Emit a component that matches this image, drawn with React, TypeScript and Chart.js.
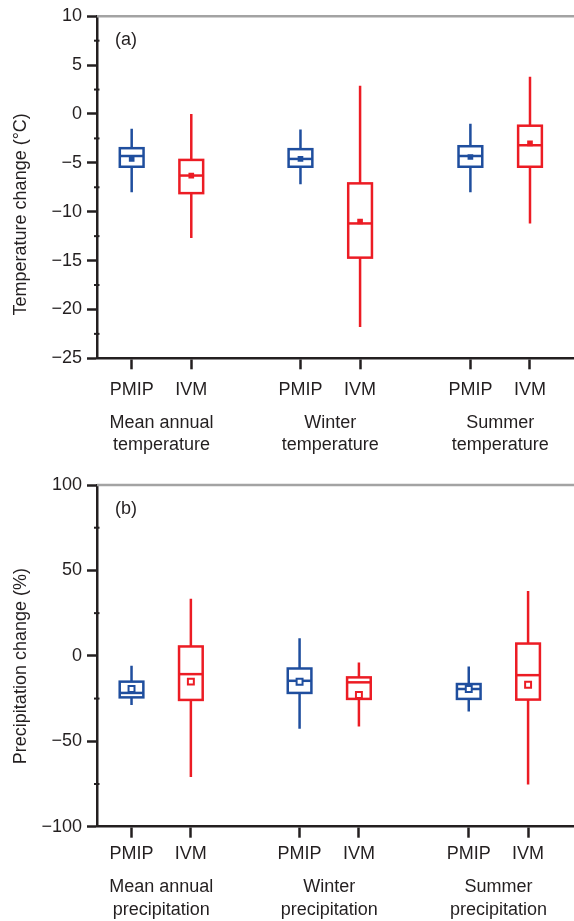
import React, { useEffect, useRef } from "react";
import { Chart, registerables } from "chart.js";

Chart.register(...registerables);

// ---------- data ----------
const models = ["PMIP", "IVM"];
const groupCenters = [1, 3.985, 6.99];
const modelOffset = 0.527;

const tempGroups = [
  ["Mean annual", "temperature"],
  ["Winter", "temperature"],
  ["Summer", "temperature"],
];
const precGroups = [
  ["Mean annual", "precipitation"],
  ["Winter", "precipitation"],
  ["Summer", "precipitation"],
];

// order: MA-PMIP, MA-IVM, W-PMIP, W-IVM, S-PMIP, S-IVM
const tempMin = [-8.0, -12.7, -7.2, -21.8, -8.0, -11.2];
const tempQ1 = [-5.4, -8.1, -5.4, -14.7, -5.4, -5.4];
const tempMedian = [-4.3, -6.3, -4.6, -11.2, -4.3, -3.2];
const tempMean = [-4.6, -6.3, -4.6, -11.0, -4.4, -3.0];
const tempQ3 = [-3.5, -4.7, -3.6, -7.1, -3.3, -1.2];
const tempMax = [-1.5, 0.0, -1.6, 2.9, -1.0, 3.8];

const precMin = [-28.7, -70.9, -42.7, -41.3, -32.6, -75.3];
const precQ1 = [-24.3, -25.8, -21.7, -25.2, -25.2, -25.6];
const precMedian = [-21.7, -10.7, -14.6, -15.5, -19.4, -11.3];
const precMean = [-19.4, -15.1, -15.2, -22.9, -19.4, -16.9];
const precQ3 = [-15.1, 5.5, -7.4, -12.6, -16.5, 7.2];
const precMax = [-5.8, 33.4, 10.3, -3.9, -6.2, 37.9];

const tempTicks = [-25, -20, -15, -10, -5, 0, 5, 10];
const precTicks = [-100, -50, 0, 50, 100];

// ---------- style ----------
const BLUE = "#1f4e9e";
const RED = "#ec1c24";
const DARK = "#231f20";
const GREY_BORDER = "#a3a3a3";
const FONT_FAMILY = "'Liberation Sans', Arial, Helvetica, sans-serif";
const font = { family: FONT_FAMILY, size: 18, lineHeight: 1.25 };

const xPositions = groupCenters.flatMap((c) => [c - modelOffset, c + modelOffset]);
const colors = xPositions.map((_, i) => (i % 2 === 0 ? BLUE : RED));

function fmt(v: number) {
  return v < 0 ? "\u2212" + Math.abs(v) : String(v);
}

type Panel = {
  label: string;
  yTitle: string;
  titleFrac: number;
  groups: string[][];
  min: number[];
  q1: number[];
  median: number[];
  mean: number[];
  q3: number[];
  max: number[];
  ticks: number[];
  height: number;
  padTop: number;
  xAxisH: number;
  groupAxisH: number;
  xPad: number;
  groupPad: number;
  hollowMean: boolean;
};

function makePlugin(p: Panel) {
  return {
    id: "boxes",
    beforeDatasetsDraw(chart: any) {
      const { ctx } = chart;
      const x = chart.scales.x;
      const y = chart.scales.y;
      ctx.save();
      ctx.lineWidth = 2.5;
      const boxW = 0.42;
      xPositions.forEach((pos, i) => {
        const xc = x.getPixelForValue(pos);
        const half = (x.getPixelForValue(pos + boxW / 2) - x.getPixelForValue(pos - boxW / 2)) / 2;
        const yMin = y.getPixelForValue(p.min[i]);
        const yQ1 = y.getPixelForValue(p.q1[i]);
        const yMed = y.getPixelForValue(p.median[i]);
        const yQ3 = y.getPixelForValue(p.q3[i]);
        const yMax = y.getPixelForValue(p.max[i]);
        ctx.strokeStyle = colors[i];
        ctx.beginPath();
        ctx.moveTo(xc, yMax);
        ctx.lineTo(xc, yQ3);
        ctx.moveTo(xc, yQ1);
        ctx.lineTo(xc, yMin);
        ctx.stroke();
        ctx.fillStyle = "#ffffff";
        ctx.fillRect(xc - half, yQ3, 2 * half, yQ1 - yQ3);
        ctx.strokeRect(xc - half, yQ3, 2 * half, yQ1 - yQ3);
        ctx.beginPath();
        ctx.moveTo(xc - half, yMed);
        ctx.lineTo(xc + half, yMed);
        ctx.stroke();
      });
      ctx.restore();
    },
    afterDraw(chart: any) {
      const { ctx, chartArea } = chart;
      const y = chart.scales.y;
      ctx.save();
      // top frame line
      ctx.strokeStyle = GREY_BORDER;
      ctx.lineWidth = 2.5;
      ctx.beginPath();
      ctx.moveTo(chartArea.left, chartArea.top);
      ctx.lineTo(chartArea.right, chartArea.top);
      ctx.stroke();
      // minor ticks
      ctx.strokeStyle = DARK;
      ctx.lineWidth = 2;
      for (let k = 0; k < p.ticks.length - 1; k++) {
        const v = (p.ticks[k] + p.ticks[k + 1]) / 2;
        const py = y.getPixelForValue(v);
        ctx.beginPath();
        ctx.moveTo(chartArea.left - 3, py);
        ctx.lineTo(chartArea.left + 2.5, py);
        ctx.stroke();
      }
      // y title
      ctx.fillStyle = DARK;
      ctx.font = `18px ${FONT_FAMILY}`;
      ctx.textAlign = "center";
      ctx.textBaseline = "middle";
      const ty = chartArea.top + (chartArea.bottom - chartArea.top) * p.titleFrac;
      ctx.translate(21.5, ty);
      ctx.rotate(-Math.PI / 2);
      ctx.fillText(p.yTitle, 0, 0);
      ctx.restore();
      // panel label
      ctx.save();
      ctx.fillStyle = DARK;
      ctx.font = `18px ${FONT_FAMILY}`;
      ctx.textAlign = "left";
      ctx.textBaseline = "middle";
      ctx.fillText(p.label, chartArea.left + 18, chartArea.top + 24);
      ctx.restore();
    },
  };
}

function buildChart(canvas: HTMLCanvasElement, p: Panel) {
  const unit = 57;
  const chartW = 600 - 97;
  const xMin = groupCenters[0] - 65 / unit;
  const xMax = xMin + chartW / unit;
  const tMin = p.ticks[0];
  const tMax = p.ticks[p.ticks.length - 1];
  const step = p.ticks[1] - p.ticks[0];

  return new Chart(canvas, {
    type: "scatter",
    data: {
      datasets: [
        {
          data: xPositions.map((xv, i) => ({ x: xv, y: p.mean[i] })),
          pointStyle: "rect",
          pointRadius: p.hollowMean ? 4.2 : 4,
          pointHoverRadius: p.hollowMean ? 4.2 : 4,
          pointBackgroundColor: p.hollowMean ? "#ffffff" : colors,
          pointBorderColor: colors,
          pointBorderWidth: p.hollowMean ? 2 : 0,
        } as any,
      ],
    },
    options: {
      responsive: false,
      animation: false,
      devicePixelRatio: 1,
      events: [],
      layout: { padding: { top: p.padTop, left: 0, right: 0, bottom: 0 } },
      plugins: { legend: { display: false }, tooltip: { enabled: false } },
      scales: {
        x: {
          type: "linear",
          position: "bottom",
          min: xMin,
          max: xMax,
          afterFit: (s: any) => {
            s.height = p.xAxisH;
          },
          afterBuildTicks: (s: any) => {
            s.ticks = xPositions.map((v) => ({ value: v }));
          },
          ticks: {
            autoSkip: false,
            maxRotation: 0,
            minRotation: 0,
            padding: p.xPad,
            color: DARK,
            font,
            callback: (_v: any, i: number) => models[i % 2],
          },
          grid: {
            drawOnChartArea: false,
            drawTicks: true,
            tickLength: 11,
            tickWidth: 2.5,
            tickColor: DARK,
          },
          border: { display: true, color: DARK, width: 2.5 },
        },
        xg: {
          type: "linear",
          axis: "x",
          position: "bottom",
          weight: 1,
          min: xMin,
          max: xMax,
          afterFit: (s: any) => {
            s.height = p.groupAxisH;
          },
          afterBuildTicks: (s: any) => {
            s.ticks = groupCenters.map((v) => ({ value: v }));
          },
          ticks: {
            autoSkip: false,
            maxRotation: 0,
            minRotation: 0,
            padding: p.groupPad,
            color: DARK,
            font,
            callback: (_v: any, i: number) => p.groups[i],
          },
          grid: { display: false, drawTicks: false },
          border: { display: false },
        },
        y: {
          type: "linear",
          min: tMin,
          max: tMax,
          afterFit: (s: any) => {
            s.width = 97;
          },
          ticks: {
            stepSize: step,
            padding: 5,
            color: DARK,
            font,
            callback: (v: any) => fmt(Number(v)),
          },
          grid: {
            drawOnChartArea: false,
            drawTicks: true,
            tickLength: 10,
            tickWidth: 2.5,
            tickColor: DARK,
          },
          border: { display: true, color: DARK, width: 2.5 },
        },
      },
    } as any,
    plugins: [makePlugin(p)],
  });
}

const topPanel: Panel = {
  label: "(a)",
  yTitle: "Temperature change (\u00B0C)",
  titleFrac: 0.579,
  groups: tempGroups,
  min: tempMin,
  q1: tempQ1,
  median: tempMedian,
  mean: tempMean,
  q3: tempQ3,
  max: tempMax,
  ticks: tempTicks,
  height: 460,
  padTop: 15,
  xAxisH: 40,
  groupAxisH: 61.7,
  xPad: 9.75,
  groupPad: 13,
  hollowMean: false,
};

const bottomPanel: Panel = {
  label: "(b)",
  yTitle: "Precipitation change (%)",
  titleFrac: 0.53,
  groups: precGroups,
  min: precMin,
  q1: precQ1,
  median: precMedian,
  mean: precMean,
  q3: precQ3,
  max: precMax,
  ticks: precTicks,
  height: 461,
  padTop: 25,
  xAxisH: 36,
  groupAxisH: 58.3,
  xPad: 5,
  groupPad: 13.5,
  hollowMean: true,
};

function PanelChart({ panel }: { panel: Panel }) {
  const ref = useRef<HTMLCanvasElement | null>(null);
  useEffect(() => {
    if (!ref.current) return;
    const chart = buildChart(ref.current, panel);
    return () => chart.destroy();
  }, [panel]);
  return (
    <canvas
      ref={ref}
      width={600}
      height={panel.height}
      style={{ display: "block", width: 600, height: panel.height }}
    />
  );
}

export default function App() {
  return (
    <div
      style={{
        position: "absolute",
        left: 0,
        top: 0,
        width: 574,
        height: 921,
        overflow: "hidden",
        background: "#ffffff",
      }}
    >
      <PanelChart panel={topPanel} />
      <PanelChart panel={bottomPanel} />
    </div>
  );
}
